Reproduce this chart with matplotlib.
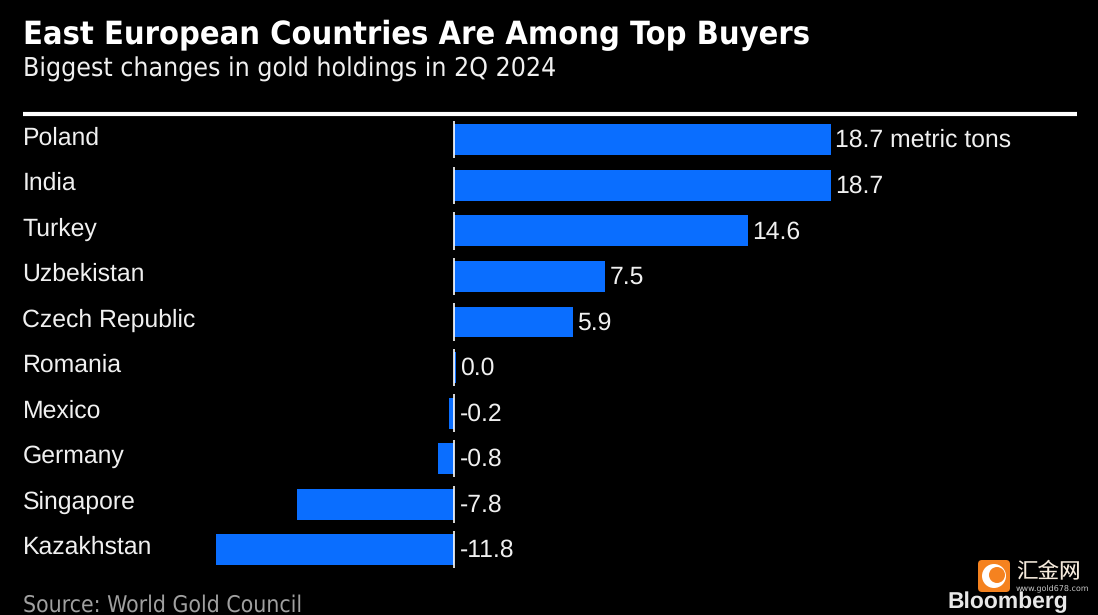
import matplotlib
matplotlib.use("Agg")
import matplotlib.pyplot as plt
from matplotlib.patches import FancyBboxPatch, Circle

plt.rcParams["text.hinting"] = "no_hinting"
plt.rcParams["text.hinting_factor"] = 8

countries = ["Poland", "India", "Turkey", "Uzbekistan", "Czech Republic",
             "Romania", "Mexico", "Germany", "Singapore", "Kazakhstan"]
values = [18.7, 18.7, 14.6, 7.5, 5.9, 0.12, -0.25, -0.8, -7.8, -11.8]
labels = ["18.7 metric tons", "18.7", "14.6", "7.5", "5.9", "0.0", "-0.2", "-0.8", "-7.8", "-11.8"]

W, H = 1098, 615
fig = plt.figure(figsize=(W/100, H/100), dpi=100, facecolor="black")
bg = fig.add_axes([0, 0, 1, 1]); bg.set_xlim(0, W); bg.set_ylim(H, 0); bg.axis("off")

x0, unit = 454, (831-454)/18.7
ax = fig.add_axes([0, 0, 1, 1]); ax.patch.set_alpha(0)
ax.set_xlim(-x0/unit, (W-x0)/unit)
row0, step = 139.8, 45.55
ax.set_ylim((H-row0)/step, -row0/step)
ax.axis("off")
ys = list(range(len(countries)))
ax.barh(ys, values, height=0.68, color="#0a6eff", zorder=2)
for y, c, v, l in zip(ys, countries, values, labels):
    ax.vlines(0, y-0.41, y+0.41, color="white", lw=1.2, zorder=3)
    ax.text(max(v, 0) + (0.2 if v > 0.05 else 0.3), y+0.02, l, color="#f0f0f0", fontsize=17.8,
            family="Liberation Sans", va="center", ha="left")
    bg.text(22.5, row0 + y*step - 2, c, color="#f0f0f0", fontsize=17.8, family="Liberation Sans",
            va="center", ha="left")

bg.plot([23, 1077], [114, 114], color="white", lw=3, solid_capstyle="butt")
bg.text(23, 35.5, "East European Countries Are Among Top Buyers", color="white", fontsize=23.35,
        family="DejaVu Sans", stretch="condensed", weight="bold", va="center")
bg.text(23, 69.5, "Biggest changes in gold holdings in 2Q 2024", color="#f0f0f0", fontsize=19.05,
        family="DejaVu Sans", stretch="condensed", va="center")
bg.text(23, 605.5, "Source: World Gold Council", color="#a0a0a0", fontsize=16.45,
        family="DejaVu Sans", stretch="condensed", va="center")
bg.text(1068, 602, "Bloomberg", color="#e8e8e8", fontsize=16.5, family="Liberation Sans",
        weight="bold", va="center", ha="right")
bg.add_patch(FancyBboxPatch((978, 560), 32, 32, boxstyle="round,pad=0,rounding_size=4", fc="#f5821f", ec="none"))
bg.add_patch(Circle((994, 576), 12, fc="white", ec="none"))
bg.add_patch(Circle((997, 575), 8, fc="#f5821f", ec="none"))
bg.text(1016, 571, "汇金网", color="#f5eadc", fontsize=15.5, family=["Noto Sans CJK SC", "DejaVu Sans"], va="center")
bg.text(1016, 588, "www.gold678.com", color="#c8c8c8", fontsize=5.8, family="DejaVu Sans", va="center")
fig.savefig("out.png", dpi=100, facecolor="black")
